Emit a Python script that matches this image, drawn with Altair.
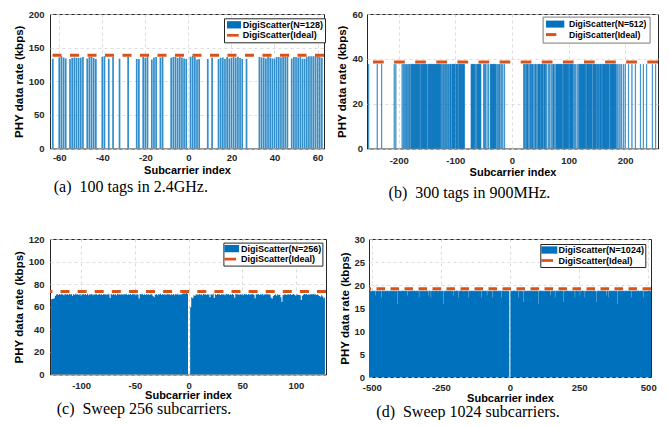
import altair as alt
import pandas as pd

BLUE = "#0072BD"
ORANGE = "#D95319"
FONT = "Liberation Sans"
SERIF = "Liberation Serif"
IDEAL = "DigiScatter(Ideal)"
YTITLE = "PHY data rate (kbps)"
XTITLE = "Subcarrier index"

# ---------------- (a) 100 tags in 2.4GHz ----------------
A_NAME = "DigiScatter(N=128)"
A_IDX = [-63,
         -60, -59, -58, -57,
         -55, -54, -53, -52, -51, -50, -49,
         -47, -46, -45, -44, -43,
         -40, -39, -37, -35, -32, -28,
         -24, -23, -21, -20, -19,
         -17, -16, -15, -13, -12,
         -8, -7, -6, -5, -4, -3, -2, -1,
         1, 2, 3, 4, 5, 9, 11,
         14, 15, 16, 17, 18, 19, 20, 21, 22, 23, 24, 25, 27,
         33, 34, 35, 36, 37, 38, 39, 40, 41, 42, 43, 44, 45, 46,
         48, 49, 50, 51, 52, 53, 54, 55, 56, 57, 58, 59, 60, 61, 62]
A_VAL = [133.5,
         135.5, 137.0, 135.5, 134.0,
         133.0, 134.5, 135.5, 135.0, 134.5, 135.0, 136.0,
         134.0, 136.0, 136.5, 134.5, 133.0,
         136.5, 137.0, 133.5, 136.0, 133.5, 136.5,
         133.0, 133.0, 136.0, 134.5, 136.5,
         132.5, 135.5, 136.0, 135.5, 136.0,
         135.0, 136.0, 136.5, 134.5, 136.5, 135.5, 134.0, 133.0,
         136.5, 137.5, 136.0, 132.5, 133.0, 133.0, 135.5,
         133.0, 135.0, 135.5, 133.0, 136.0, 134.0, 134.5, 136.0, 135.0, 136.5, 134.5, 133.0, 133.5,
         136.0, 135.5, 135.5, 134.0, 136.5, 135.5, 134.0, 133.5, 136.0, 136.0, 135.5, 136.5, 136.0, 136.0,
         134.0, 136.0, 136.0, 135.5, 136.5, 133.5, 133.5, 136.5, 137.0, 137.0, 137.0, 137.0, 137.0, 136.0, 135.0]
A_IDEAL = 138.6

# ---------------- (b) 300 tags in 900MHz ----------------
B_NAME = "DigiScatter(N=512)"
# runs of occupied subcarriers: (first, last, rate)
B_RUNS = [
    (-253, -253, 37.6), (-238, -238, 37.6), (-230, -230, 37.6), (-208, -208, 37.6), (-205, -205, 37.6),
    (-194, -194, 37.6), (-192, -192, 37.6), (-190, -190, 37.6), (-188, -188, 37.6), (-186, -185, 37.6),
    (-183, -183, 37.6), (-181, -180, 37.6),
    (-178, -163, 37.6), (-161, -150, 37.6), (-148, -126, 37.6),
    (-124, -124, 37.6), (-122, -121, 37.6), (-119, -119, 37.6), (-117, -116, 37.6), (-114, -114, 37.6),
    (-112, -111, 37.6), (-109, -108, 37.6),
    (-106, -101, 37.6), (-99, -96, 37.6), (-94, -84, 37.6),
    (-72, -66, 37.6), (-64, -64, 37.6), (-62, -55, 37.6), (-50, -50, 37.6), (-48, -47, 37.6),
    (-44, -44, 37.6), (-41, -41, 37.6), (-38, -28, 37.6),
    (-26, -26, 37.6), (-24, -24, 37.6), (-22, -21, 37.6), (-18, -18, 37.6), (-16, -16, 37.6), (-13, -13, 37.6),
    (21, 22, 37.6), (24, 24, 37.6), (26, 28, 37.6), (30, 30, 37.6), (32, 33, 37.6), (35, 37, 37.6),
    (39, 39, 37.6), (41, 42, 37.6), (44, 44, 37.6),
    (46, 50, 37.6), (52, 55, 37.6), (57, 59, 37.6),
    (61, 61, 37.6), (64, 64, 37.6), (66, 66, 37.6), (69, 69, 37.6), (71, 71, 37.6), (73, 74, 37.6), (76, 76, 37.6),
    (78, 89, 37.6), (91, 100, 37.6), (102, 108, 37.6),
    (110, 110, 37.6), (112, 112, 37.6), (115, 115, 37.6), (117, 117, 37.6),
    (119, 130, 37.6), (132, 141, 37.6), (143, 149, 37.6),
    (151, 153, 37.6), (155, 158, 37.6),
    (160, 171, 37.6), (173, 184, 37.6),
    (186, 186, 37.6), (189, 189, 37.6), (191, 191, 37.6), (194, 194, 37.6), (197, 197, 37.6), (200, 200, 37.6),
    (206, 206, 37.6), (212, 212, 37.6), (218, 218, 37.6), (227, 227, 37.6), (232, 232, 37.6),
    (238, 238, 37.6), (248, 248, 37.6), (254, 254, 37.6),
]
B_IDEAL = 38.6

# ---------------- (c) sweep 256 subcarriers ----------------
C_NAME = "DigiScatter(N=256)"
C_START = -128
C_VAL = [
    66.5, 67.0, 66.8, 67.5, 69.5, 70.8, 71.0, 70.5, 71.2, 70.6, 71.5, 70.9, 70.2, 71.3, 70.7, 71.4,
    70.5, 71.6, 70.8, 71.0, 69.8, 71.2, 70.4, 71.5, 70.9, 71.1, 70.3, 71.4, 69.9, 70.8, 71.3, 70.6,
    71.2, 70.5, 71.6, 70.1, 71.0, 70.8, 71.4, 70.2, 71.1, 70.7, 71.5, 70.4, 70.9, 71.3, 70.6, 71.0,
    70.3, 71.4, 70.8, 71.1, 70.5, 71.6, 70.9, 67.8, 71.2, 70.4, 71.3, 70.7, 71.0, 70.2, 71.5, 70.8,
    71.1, 70.6, 71.4, 70.3, 71.2, 70.9, 71.5, 70.5, 71.0, 70.7, 71.3, 70.4, 71.6, 70.8, 71.1, 70.2,
    71.4, 70.6, 67.2, 71.2, 70.9, 71.5, 70.5, 71.1, 70.3, 71.3, 70.7, 71.0, 70.4, 71.6, 70.8, 69.5,
    68.5, 70.6, 71.4, 70.2, 71.1, 70.9, 71.5, 70.4, 71.2, 70.7, 71.0, 70.3, 71.6, 70.8, 71.3, 70.5,
    71.1, 70.6, 71.4, 70.2, 71.2, 70.9, 71.5, 70.5, 71.0, 70.7, 71.3, 71.8, 72.0, 71.6, 72.2, 71.5,
    0.0, 0.0, 59.5, 68.5, 67.5, 70.2, 69.5, 70.8, 71.1, 70.4, 71.3, 70.6, 71.0, 70.2, 71.4, 70.8,
    71.1, 70.5, 71.3, 70.7, 68.5, 71.2, 70.4, 71.5, 67.8, 71.0, 70.3, 71.4, 70.8, 71.1, 70.5, 71.3,
    70.7, 71.0, 70.2, 71.5, 70.9, 71.2, 70.4, 71.1, 70.6, 71.4, 70.3, 68.0, 71.2, 70.8, 71.0, 70.5,
    71.3, 70.7, 71.1, 70.2, 71.4, 70.8, 71.0, 70.5, 71.3, 70.6, 71.2, 70.9, 71.5, 70.4, 67.5, 71.0,
    70.8, 71.3, 70.5, 71.1, 70.7, 71.4, 70.2, 71.0, 70.9, 71.5, 70.6, 71.2, 70.3, 68.0, 67.2, 69.5,
    70.5, 70.8, 69.8, 71.0, 70.4, 70.6, 68.5, 64.5, 70.2, 70.9, 71.1, 70.4, 70.8, 71.0, 70.6, 71.2,
    70.3, 70.9, 71.2, 70.5, 69.8, 71.0, 70.4, 70.6, 70.1, 66.0, 69.8, 70.7, 71.2, 70.8, 71.3, 70.5,
    71.1, 70.6, 71.4, 70.9, 71.2, 70.8, 71.0, 70.5, 70.9, 70.2, 69.5, 68.8, 70.2, 69.0, 67.5, 68.5,
]
C_IDEAL = 73.4

# ---------------- (d) sweep 1024 subcarriers ----------------
D_NAME = "DigiScatter(N=1024)"
D_START = -512
# one character per subcarrier (from -512 upward), decoded with D_LEVELS
D_LEVELS = {"5": 18.5, "6": 18.6, "7": 18.7, "8": 18.8, "9": 18.9,
            "a": 15.8, "b": 16.3, "c": 16.8, "d": 17.3, "e": 17.7, "z": 0.0}
D_ROWS = [
    "67878786 87687878 78678768 87e78687 78786878 68787876 d7878687 87868787",
    "78687878 86787687 87876878 68787867 87687878 78a78687 87867878 68788786",
    "87876878 78687e78 68787687 87868787 78786878 87687868 7878687d 87868787",
    "78687878 86787868 78786878 87e78687 78d78687 87868787 68787878 78687687",
    "87878687 7868787a 87687878 68787868 78786878 87868787 78687e78 86787878",
    "87868d78 78687878 87876878 68787687 87868787 7d786878 86787878 78687868",
    "78786878 87687878 68787868 78d78687 87868787 78687e78 87876878 68787687",
    "d8786878 87687878 78687868 87868787 78d87687 87878687 78687878 687876zz",
    "zz787868 78687878 87876878 687878d8 87868787 78687687 b7878687 87868787",
    "78786878 87687878 68787868 78787687 878687a7 78687878 87876878 68787687",
    "87868787 78687878 87e76878 68787868 787d8687 87868787 78687878 87876878",
    "7b787868 78687878 87876878 68787687 87868787 786d7878 87876878 68787e87",
    "78786878 8768787d 68787868 78787687 87868787 78687878 87876878 6b787687",
    "87868787 78687878 87876878 68787e68 787d8687 87868787 78687878 87876878",
    "78786a78 87687878 68787868 78787687 87868787 78687878 87876878 d8787687",
    "87868787 78687878 87876878 68787868 78d87687 87868787 78687878 87876867",
]
D_IDEAL = 19.2

# ---------------- tables ----------------
df_a = pd.DataFrame({"i": A_IDX[:len(A_VAL)], "v": A_VAL[:len(A_IDX)]})
df_a["x0"] = df_a["i"] - 0.4
df_a["x1"] = df_a["i"] + 0.4
df_a["series"] = A_NAME

b_rows = []
for s, e, v in B_RUNS:
    for k in range(s, e + 1):
        b_rows.append({"i": k, "v": v})
df_b = pd.DataFrame(b_rows)
df_b["x0"] = df_b["i"] - 0.45
df_b["x1"] = df_b["i"] + 0.45
df_b["series"] = B_NAME

df_c = pd.DataFrame({"i": [C_START + k for k in range(len(C_VAL))], "v": C_VAL})
df_c["series"] = C_NAME

d_code = "".join(r.replace(" ", "") for r in D_ROWS)
df_d = pd.DataFrame({"i": [D_START + k for k in range(len(d_code))],
                     "v": [D_LEVELS[ch] for ch in d_code]})
df_d["series"] = D_NAME

NEG_LABEL = "datum.value < 0 ? '-' + abs(datum.value) : '' + datum.value"


def panel(df, kind, name, ideal, xdom, xticks, ydom, yticks, w, h, caption, cap_dx, cap_off,
          leg_xy, leg_pad, leg_sym_off, leg_lab_off, leg_font, rect_path, dash_path, leg_stroke,
          dash, ylab_pad, ytitle_pad, xlab_pad, xtitle_pad, bar_opacity=1.0, bar_stroke=0.0):
    legend = alt.Legend(
        title=None, orient="none", legendX=leg_xy[0], legendY=leg_xy[1],
        fillColor="white", strokeColor=leg_stroke, padding=leg_pad,
        labelFont=FONT, labelFontSize=leg_font, labelFontWeight="bold", labelColor="black",
        symbolSize=100, symbolStrokeWidth=0, symbolOpacity=1, symbolOffset=leg_sym_off,
        labelOffset=leg_lab_off, rowPadding=0.5,
    )
    color = alt.Color("series:N", scale=alt.Scale(domain=[name, IDEAL], range=[BLUE, ORANGE]), legend=legend)
    shape = alt.Shape("series:N", scale=alt.Scale(domain=[name, IDEAL], range=[rect_path, dash_path]), legend=legend)
    xs = alt.Scale(domain=xdom, nice=False, zero=False)
    ys = alt.Scale(domain=ydom, nice=False)
    xax = alt.Axis(values=xticks, title=XTITLE, labelExpr=NEG_LABEL, labelFlush=False,
                   labelOverlap=False, labelPadding=xlab_pad, titlePadding=xtitle_pad)
    yax = alt.Axis(values=yticks, title=YTITLE, labelPadding=ylab_pad, titlePadding=ytitle_pad,
                   labelOverlap=False)
    if kind == "bar":
        if bar_stroke > 0:
            bar = alt.Chart(df).mark_bar(clip=True, fillOpacity=bar_opacity, stroke=BLUE, strokeWidth=bar_stroke)
        else:
            bar = alt.Chart(df).mark_bar(clip=True, fillOpacity=bar_opacity)
        marks = bar.encode(
            x=alt.X("x0:Q", scale=xs, axis=xax), x2="x1:Q",
            y=alt.Y("v:Q", scale=ys, axis=yax), y2=alt.datum(0), color=color)
    else:
        marks = alt.Chart(df).mark_area(interpolate="step", clip=True).encode(
            x=alt.X("i:Q", scale=xs, axis=xax),
            y=alt.Y("v:Q", scale=ys, axis=yax), color=color)
    ideal_df = pd.DataFrame({"v": [ideal], "series": [IDEAL]})
    rule = alt.Chart(ideal_df).mark_rule(strokeWidth=3, strokeDash=dash).encode(
        y=alt.Y("v:Q", scale=ys, axis=yax), color=color)
    key = alt.Chart(ideal_df).mark_point(filled=True, size=100).encode(
        color=color, shape=shape).transform_filter("false")
    return alt.layer(marks, rule, key).properties(
        width=w, height=h,
        title=alt.TitleParams(caption, orient="bottom", anchor="start", frame="group", dx=cap_dx,
                              offset=cap_off, font=SERIF, fontSize=16, fontWeight="normal", color="black"),
    )


pa = panel(df_a, "bar", A_NAME, A_IDEAL, [-64.3, 63], [-60, -40, -20, 0, 20, 40, 60],
           [0, 200], [0, 50, 100, 150, 200], 274, 134.5,
           "(a)\u00a0\u00a0100 tags in 2.4GHz.", 3.7, 3.7,
           (174, 4.3), 1.5, 1.5, 5.8, 9, "M-1,-0.73H1.8V0.73H-1Z", "M-1,-0.27H1.34V0.27H-1Z", "#262626",
           [9, 8.5], 6, 3.5, 4, 2, bar_opacity=0.8)
pb = panel(df_b, "bar", B_NAME, B_IDEAL, [-256, 258], [-200, -100, 0, 100, 200],
           [0, 60], [0, 20, 40, 60], 291, 134.5,
           "(b)\u00a0\u00a0300 tags in 900MHz.", 21.6, 7.5,
           (175.6, 2.6), 2.5, 0.9, 12.9, 8.7, "M-1,-0.7H2.66V0.7H-1Z", "M-1,-0.3H1.06V0.3H-1Z", "#777777",
           [10.7, 10.4], 4.4, 5, 6.5, 2, bar_opacity=1.0, bar_stroke=0.35)
pc = panel(df_c, "area", C_NAME, C_IDEAL, [-129, 128], [-100, -50, 0, 50, 100],
           [0, 120], [0, 20, 40, 60, 80, 100, 120], 276, 135.5,
           "(c)\u00a0\u00a0Sweep 256 subcarriers.", 6.7, 0,
           (173.4, 3.6), 1, 0, 6.6, 9, "M-1,-0.73H1.92V0.73H-1Z", "M-1,-0.27H1.34V0.27H-1Z", "#262626",
           [9, 8.1], 6, 3.5, 5.5, 0)
pd_ = panel(df_d, "area", D_NAME, D_IDEAL, [-510, 510], [-500, -250, 0, 250, 500],
            [0, 30], [0, 5, 10, 15, 20, 25, 30], 282, 138,
            "(d)\u00a0\u00a0Sweep 1024 subcarriers.", 7.3, 0.5,
            (171.3, 5), 1, 0, 7.3, 9, "M-1,-0.73H2.2V0.73H-1Z", "M-1,-0.27H1.34V0.27H-1Z", "#262626",
            [8.5, 5.5], 4.4, 4, 5.5, 0)

row1 = alt.hconcat(pa, pb, spacing=9).resolve_scale(color="independent", shape="independent").resolve_legend(
    color="independent", shape="independent")
row2 = alt.hconcat(pc, pd_, spacing=10).resolve_scale(color="independent", shape="independent").resolve_legend(
    color="independent", shape="independent")

chart = alt.vconcat(row1, row2, spacing=31).resolve_scale(
    color="independent", shape="independent").resolve_legend(color="independent", shape="independent").properties(
    padding={"left": 5, "top": 0, "right": 0, "bottom": 0}
).configure_view(stroke="#262626", strokeWidth=1).configure_axis(
    labelFont=FONT, labelFontWeight="bold", labelFontSize=9.5, labelColor="#262626",
    titleFont=FONT, titleFontWeight="bold", titleFontSize=11, titleColor="#000000",
    ticks=False, domain=False, grid=True, gridColor="#d4d4d4", gridDash=[3, 3], gridWidth=0.8,
).configure_axisY(titleFontSize=11.5)

chart.save("out.html", embed_options={"renderer": "svg", "actions": False})
